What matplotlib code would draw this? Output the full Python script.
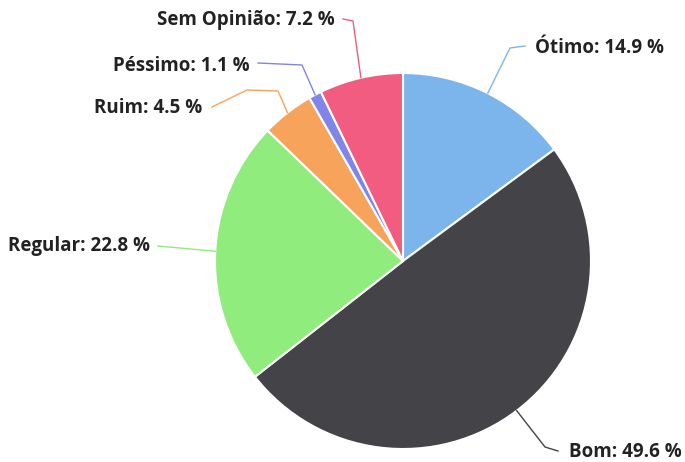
import matplotlib
matplotlib.use('Agg')
import matplotlib.pyplot as plt
import numpy as np

labels = ['Ótimo', 'Bom', 'Regular', 'Ruim', 'Péssimo', 'Sem Opinião']
values = [14.9, 49.6, 22.8, 4.5, 1.1, 7.2]
colors = ['#7cb5ec', '#434348', '#90ed7d', '#f7a35c', '#8085e9', '#f15c80']

W, H = 685, 462
cx, cy, R = 403, H - 261, 188

# label text anchor (pixel coords from top-left) and connector bend points
label_pos = [(535, 48, 'left'), (569, 452, 'left'), (150, 246, 'right'),
             (202, 108, 'right'), (250, 66, 'right'), (335, 20, 'right')]
bends = [[(510, 48), (525, 46)],
         [(545, 447), (558, 451)],
         [(158, 246)],
         [(278, 91), (247, 90), (212, 107)],
         [(302, 65), (258, 63)],
         [(353, 21), (343, 19)]]

fig = plt.figure(figsize=(W / 100, H / 100), dpi=100)
ax = fig.add_axes([0, 0, 1, 1])

wedges, _ = ax.pie(values, colors=colors, startangle=90, counterclock=False,
                   center=(cx, cy), radius=R,
                   wedgeprops=dict(edgecolor='white', linewidth=1.5))
ax.set_aspect('equal')
ax.set_xlim(0, W)
ax.set_ylim(0, H)
ax.axis('off')

for w, lab, val, col, (tx, ty, ha), pts in zip(wedges, labels, values, colors, label_pos, bends):
    ang = np.deg2rad((w.theta1 + w.theta2) / 2)
    x0 = cx + R * np.cos(ang)
    y0 = cy + R * np.sin(ang)
    xs = [x0] + [p[0] for p in pts]
    ys = [y0] + [H - p[1] for p in pts]
    ax.plot(xs, ys, color=col, lw=1)
    ax.text(tx, H - ty, f'{lab}: {val} %', ha=ha, va='center',
            fontsize=13.5, fontweight='bold', family='Open Sans', color='#222222')

fig.savefig('out.png', dpi=100)
